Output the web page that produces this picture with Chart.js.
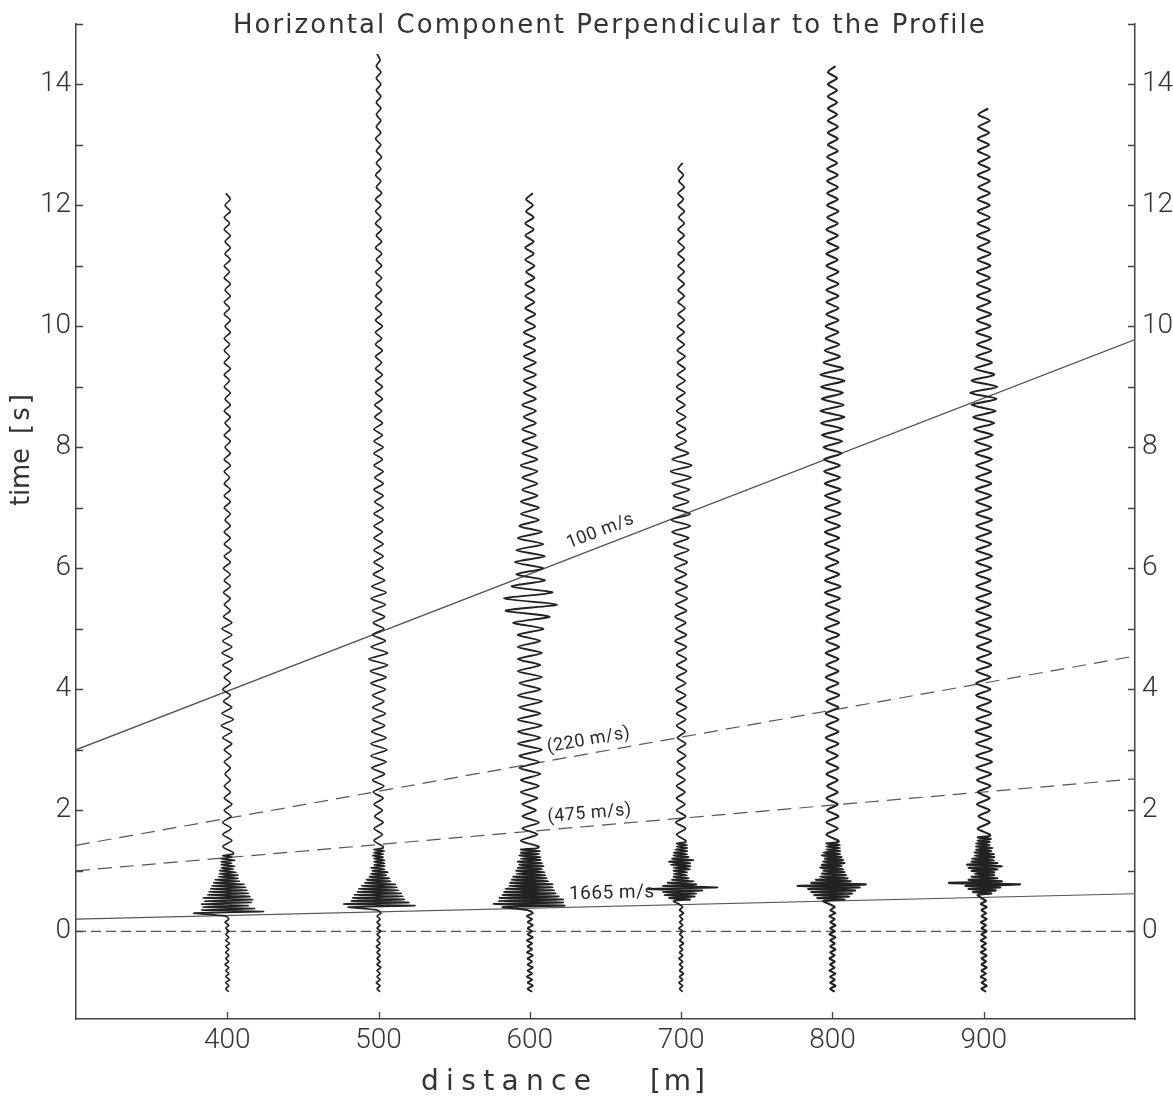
<!DOCTYPE html>
<html>
<head>
<meta charset="utf-8">
<title>Horizontal Component Perpendicular to the Profile</title>
<script src="https://cdn.jsdelivr.net/npm/chart.js@4.4.1/dist/chart.umd.min.js"></script>
<style>
  html, body { margin: 0; padding: 0; background: #fff; }
  #wrap { width: 1173px; height: 1105px; }
</style>
</head>
<body>
<div id="wrap"><canvas id="seismoChart" width="1173" height="1105"></canvas></div>
<script>
// station distances [m]
const distances = [400, 500, 600, 700, 800, 900];

// axis ticks
const xTickValues = [400, 500, 600, 700, 800, 900];
const yTickLabels = [0, 2, 4, 6, 8, 10, 12, 14];
const yTickMarks = [0, 1, 2, 3, 4, 5, 6, 7, 8, 9, 10, 11, 12, 13, 14, 15];

// trace sampling [s]: pre-event noise, first arrival burst, coda
const TRACE_START = -1.0;
const PRE_STEP = 0.05;
const BURST_STEP = 0.025;
const TAIL_STEP = 0.1;

// trace deflections [m]
const pre400 = [1,-1,1,-1,1.5,-1,1,-1,1,-1.5,1,-1,1,-1,1,-1,1.5,-1,1,-1,1,-1,1,-1.5,1,-1];
const burst400 = [-22,24,-17,18,-16,14,-17,16,-15,17,-16,15,-13,14,-12,13,-11,12,-10,11,
  -9,8,-8,7,-6,7,-5,6,-5,4,-4,5,-4,3,-4,5,-4,3,-3,4];
const tail400 = [
  4,-3,3,-3,2.5,-3,2.5,-2,3,-2,
  2,-2,2,-1.5,2,-2,2.5,-2,3,-3,
  3,-4,4,-3.5,3,-2.5,2,-3,2,-2,
  2.5,-3,3.5,-3.5,3,-3,3,-3.5,3,-2.5,
  2,-2,2,-2.5,2,-2,2,-2.5,2,-2,
  2.5,-2,2,-2,2,-1.5,2,-2,2,-2,
  2,-2,1.5,-2,2,-2,2,-1.5,2,-2,
  2,-1.5,2,-2,2,-1.5,2,-2,1.5,-2,
  2,-2,1.5,-2,1.5,-2,2,-1.5,2,-2,
  1.5,-2,2,-1.5,2,-2,1.5,-2,2,-1.5,
  2,-1.5,2,-2,1.5,-2,2,-1.5,2,-1];

const pre500 = [1,-1,1,-1.5,1,-1,1,-1,1.5,-1,1,-1,1,-1,1,-1.5,1,-1,1,-1,1.5,-1,1,-1,1,-1,1.5,-1];
const burst500 = [-20,24,-23,20,-18,17,-17,16,-16,15,-14,13,-13,12,-11,11,-9,8,-8,7,
  -6,5,-5,6,-4,4,-5,4,-3,4,-3,4,-3,3,-4,3,-3,4,-3,3];
const tail500 = [
  3,-3,2.5,-3,3,-2.5,2.5,-3,3,-3.5,
  3.5,-4,4,-4.5,5,-5,5.5,-5,5,-4.5,
  4,-4,4.5,-4,3.5,-4,4.5,-5,5,-5.5,
  6,-6.5,6,-5,4.5,-4,3.5,-3.5,4,-4,
  4.5,-5,5,-4.5,4,-3.5,3,-3,3,-3,
  3,-3,2.5,-3,3,-3,3,-2.5,3,-3,
  3,-2.5,3,-3,2.5,-3,3,-3,2.5,-3,
  2.5,-2.5,2,-2.5,2.5,-2,2.5,-2,2.5,-2,
  2,-2,2.5,-2,2,-2,2.5,-2,2,-2,
  2,-2,2,-1.5,2,-2,2,-1.5,2,-2,
  2,-1.5,2,-2,1.5,-2,1.5,-2,2,-1.5,
  1.5,-2,1.5,-1.5,2,-1.5,1.5,-2,1.5,-1.5,
  1.5,-1.5,1.5,-1.5,1.5,-1.5,1.5,-1.5,1.5,-1.5,
  1,-1];

const pre600 = [1.5,-1.5,2,-1.5,1.5,-2,1.5,-1.5,2,-1.5,1.5,-1.5,2,-2,1.5,-1.5,1.5,-2,2,-1.5,1.5,-1.5,2,-1.5,1.5,-2,2,-1.5];
const burst600 = [-18,23,-24,22,-21,22,-20,19,-18,17,-17,16,-16,15,-14,15,-13,12,-12,11,
  -11,10,-9,10,-9,8,-8,9,-7,8,-8,7,-6,7,-7,6,-6,7,-6,5];
const tail600 = [
  6,-6,5,-5,6,-5,4,-5,5,-6,
  6,-6,7,-7,6,-7,8,-8,7,-8,
  8,-8,7,-7,8,-8,7,-7,8,-8,
  7,-8,8,-8,7,-8,9,-11,13,-16,
  18,-17,15,-12,10,-9,9,-10,10,-9,
  9,-8,8,-7,6,-6,6,-6,5,-5,
  5,-5,5,-6,5,-5,5,-5,4,-5,
  4,-4,4,-5,4,-4,4,-4,4,-4,
  4,-4,3.5,-4,3.5,-4,3.5,-3,3.5,-3,
  3,-3,3,-3,3,-2.5,3,-3,2.5,-3,
  2.5,-3,2.5,-3,2.5,-2.5,2,-2.5,2];

const pre700 = [1,-1,1,-1.5,1,-1,1.5,-1,1,-1,1,-1.5,1,-1,1,-1,1.5,-1,1,-1,1,-1.5,1,-1,1,-1,1.5,-1,1,-1.5];
const burst700 = [-5,6,-8,9,-11,10,-12,14,-22,24,-12,10,-9,8,-6,5,-5,4,-5,4,
  -5,6,-5,6,-7,6,-8,8,-6,5,-5,4,-5,4,-4,4,-3,4,-3,3];
const tail700 = [
  3,-3,3,-3.5,3,-3,2.5,-3,2.5,-3,
  2.5,-3,2.5,-2.5,3,-2.5,3,-2.5,2.5,-3,
  3,-3,3.5,-3,3,-3.5,3,-3,3.5,-3,
  3.5,-3,3.5,-4,3.5,-3.5,3,-4,3.5,-3.5,
  4,-3.5,4,-4,3.5,-4,4,-4.5,5,-5,
  5,-6,6,-6.5,6,-5.5,5,-5,5.5,-6,
  6.5,-7,7,-6,5,-4,3.5,-3,3,-3,
  3,-3,2.5,-3,2.5,-3,2.5,-2.5,2.5,-2.5,
  2.5,-2.5,2,-2.5,2,-2.5,2,-2,2.5,-2,
  2,-2,2,-2,2,-2,2,-2,2,-2,
  2,-2,2,-1.5,2,-2,1.5,-2,2,-1.5,
  1.5,-2,1];

const pre800 = [1.5,-1.5,2,-1.5,1.5,-1.5,2,-2,1.5,-1.5,1.5,-2,1.5,-1.5,2,-1.5,1.5,-1.5,2,-2,1.5,-1.5,2,-1.5,1.5,-2,2,-1.5,1.5,-2];
const burst800 = [-6,8,-10,11,-12,13,-14,15,-16,18,-23,22,-14,12,-11,10,-8,9,-7,8,
  -6,7,-8,6,-7,8,-6,7,-5,6,-7,5,-6,5,-4,5,-4,5,-4,4];
const tail800 = [
  4,-4,3.5,-4,4,-3.5,3.5,-4,3.5,-3.5,
  3.5,-4,4,-4,3.5,-4,4,-4.5,4,-4,
  4,-4.5,4,-4,4.5,-4,4,-4.5,4,-4,
  4,-4.5,4.5,-4,4.5,-5,4.5,-4,4.5,-4.5,
  5,-5,5.5,-5,4.5,-4.5,4,-4.5,4.5,-5,
  4.5,-5,5,-5,5.5,-5,5,-5,5.5,-5,
  5,-5.5,5,-5.5,6,-6,6.5,-7,7,-7.5,
  8,-8,7.5,-7,7,-7.5,8,-8,7,-6,
  5,-5,4.5,-4.5,4,-4.5,4,-4,4,-4,
  4,-4,4,-3.5,4,-4,3.5,-4,4,-3.5,
  3.5,-4,3.5,-3.5,4,-3.5,3.5,-3.5,3.5,-3.5,
  3.5,-3.5,3,-3.5,3.5,-3,3.5,-3,3.5,-3,
  3,-3,3,-3,3,-3,3,-3,2];

const pre900 = [1.5,-1.5,2,-1.5,1.5,-2,1.5,-1.5,2,-1.5,1.5,-1.5,2,-2,1.5,-1.5,1.5,-2,1.5,-1.5,2,-1.5,1.5,-2,2,-1.5,1.5,-1.5,2,-2,1.5,-1.5];
const burst900 = [-4,5,-7,8,-10,11,-12,24,-23,12,-10,9,-8,7,-6,7,-8,9,-10,12,
  -11,9,-8,7,-8,7,-6,7,-6,5,-5,6,-5,4,-5,4,-4,5,-4,4];
const tail900 = [
  4,-4,4,-3.5,4,-4.5,4,-4,4.5,-4.5,
  5,-5,5.5,-5,5.5,-5,5,-5.5,5,-5,
  5,-4.5,5,-5,4.5,-5,4.5,-5,5,-4.5,
  5,-4.5,5,-5,4.5,-5,5,-5,4.5,-5,
  5,-5,4.5,-5,5,-5,5.5,-5,5,-5,
  5,-5,5.5,-5,5,-5,5,-5.5,5,-5,
  5,-5,5.5,-5.5,5,-6,6,-6.5,7,-7,
  8,-8,8.5,-9,9,-8,7,-6,5.5,-5,
  5,-4.5,5,-5,4.5,-4.5,5,-4.5,4.5,-4.5,
  4.5,-4.5,4,-4.5,4.5,-4,4.5,-4,4,-4.5,
  4,-4,4,-4,4,-4,4,-3.5,4,-4,
  4,-3.5,4,-4,3.5,-4,3.5,-3.5,4,-3.5,
  3];

const preParts = [pre400, pre500, pre600, pre700, pre800, pre900];
const burstParts = [burst400, burst500, burst600, burst700, burst800, burst900];
const tailParts = [tail400, tail500, tail600, tail700, tail800, tail900];

// velocity lines: arrival time [s] at 300 m and at 1000 m
const lineLabels = ["100 m/s", "(220 m/s)", "(475 m/s)", "1665 m/s"];
const lineTimeAt300 = [3.0, 1.42, 1.0, 0.2];
const lineTimeAt1000 = [9.78, 4.55, 2.52, 0.62];
const lineEnds = [300, 1000];

// look
const INK = "#222";
const AXIS_INK = "#444";
const LINE_INK = "#555";
const TICK_LEN = 7;
const TEXT_FONT = '"DejaVu Sans"';
const traceWidths = [1.6, 1.7, 1.9, 1.8, 2.1, 2.1];
const lineDashes = [[], [14, 8], [14, 8], []];
const lineWidths = [1.3, 1.2, 1.2, 1.2];
// where each velocity label sits (distance, time of baseline start)
const labelSpots = [[626, 6.33], [612, 2.96], [612, 1.81], [626, 0.53]];
const labelSizes = [18, 18, 18, 19];

function buildTrace(dist, pre, burst, tail) {
  const pts = [];
  let t = TRACE_START;
  pre.forEach(v => { pts.push({ x: dist + v, y: t }); t += PRE_STEP; });
  burst.forEach(v => { pts.push({ x: dist + v, y: t }); t += BURST_STEP; });
  tail.forEach(v => { pts.push({ x: dist + v, y: t }); t += TAIL_STEP; });
  return pts;
}

const datasets = [];

distances.forEach((d, i) => {
  datasets.push({
    label: d + " m",
    data: buildTrace(d, preParts[i], burstParts[i], tailParts[i]),
    showLine: true,
    borderColor: INK,
    borderWidth: traceWidths[i],
    pointRadius: 0,
    tension: 0.25,
    order: 1
  });
});

lineLabels.forEach((name, i) => {
  datasets.push({
    label: name,
    data: [
      { x: lineEnds[0], y: lineTimeAt300[i] },
      { x: lineEnds[1], y: lineTimeAt1000[i] }
    ],
    showLine: true,
    borderColor: LINE_INK,
    borderWidth: lineWidths[i],
    borderDash: lineDashes[i],
    pointRadius: 0,
    order: 2
  });
});

// t = 0 reference
datasets.push({
  label: "t0",
  data: [{ x: lineEnds[0], y: 0 }, { x: lineEnds[1], y: 0 }],
  showLine: true,
  borderColor: LINE_INK,
  borderWidth: 1.2,
  borderDash: [10, 5],
  pointRadius: 0,
  order: 2
});

function spacedText(ctx, text, x, y, width) {
  ctx.letterSpacing = "0px";
  const w = ctx.measureText(text).width;
  const sp = (width - w) / (text.length - 1);
  ctx.letterSpacing = sp.toFixed(2) + "px";
  ctx.fillText(text, x, y);
  ctx.letterSpacing = "0px";
}

const paperPlugin = {
  id: "paperAnnotations",
  afterDraw(chart) {
    const { ctx, chartArea, scales } = chart;
    const xs = scales.x, ys = scales.y;
    ctx.save();

    // inward tick marks
    ctx.strokeStyle = AXIS_INK;
    ctx.lineWidth = 1.3;
    ctx.beginPath();
    yTickMarks.forEach(v => {
      const py = Math.round(ys.getPixelForValue(v)) + 0.5;
      ctx.moveTo(chartArea.left, py);
      ctx.lineTo(chartArea.left + TICK_LEN, py);
      ctx.moveTo(chartArea.right, py);
      ctx.lineTo(chartArea.right - TICK_LEN, py);
    });
    xTickValues.forEach(v => {
      const px = Math.round(xs.getPixelForValue(v)) + 0.5;
      ctx.moveTo(px, chartArea.bottom);
      ctx.lineTo(px, chartArea.bottom - TICK_LEN);
    });
    ctx.stroke();

    // velocity labels along their lines
    ctx.fillStyle = "#2a2a2a";
    ctx.textAlign = "left";
    ctx.textBaseline = "alphabetic";
    lineLabels.forEach((name, i) => {
      const x0 = xs.getPixelForValue(lineEnds[0]), y0 = ys.getPixelForValue(lineTimeAt300[i]);
      const x1 = xs.getPixelForValue(lineEnds[1]), y1 = ys.getPixelForValue(lineTimeAt1000[i]);
      const ang = Math.atan2(y1 - y0, x1 - x0);
      ctx.save();
      ctx.translate(xs.getPixelForValue(labelSpots[i][0]), ys.getPixelForValue(labelSpots[i][1]));
      ctx.rotate(ang);
      ctx.font = labelSizes[i] + "px Roboto";
      ctx.letterSpacing = "0.5px";
      ctx.fillText(name, 0, 0);
      ctx.restore();
    });

    // title and axis titles
    ctx.fillStyle = "#333";
    ctx.font = "26px " + TEXT_FONT;
    spacedText(ctx, "Horizontal Component Perpendicular to the Profile", 233, 33, 752);
    ctx.font = "28px " + TEXT_FONT;
    spacedText(ctx, "distance", 421, 1090, 170);
    spacedText(ctx, "[m]", 650, 1090, 55);
    ctx.save();
    ctx.translate(29, 506);
    ctx.rotate(-Math.PI / 2);
    ctx.font = "26px " + TEXT_FONT;
    spacedText(ctx, "time", 0, 0, 58);
    spacedText(ctx, "[s]", 72, 0, 40);
    ctx.restore();

    ctx.restore();
  }
};

const tickFont = { family: "Roboto", size: 28, weight: "300" };

new Chart(document.getElementById("seismoChart"), {
  type: "scatter",
  data: { datasets: datasets },
  options: {
    responsive: false,
    animation: false,
    devicePixelRatio: 1,
    layout: { padding: { top: 21, left: 0, right: 0, bottom: 0 } },
    plugins: {
      legend: { display: false },
      tooltip: { enabled: false },
      title: { display: false }
    },
    scales: {
      x: {
        type: "linear",
        position: "bottom",
        min: 300,
        max: 1000,
        grid: { display: false, drawTicks: false },
        border: { display: true, color: AXIS_INK, width: 1.5 },
        ticks: { font: tickFont, color: "#333", padding: 5, maxRotation: 0, autoSkip: false },
        afterBuildTicks: scale => { scale.ticks = xTickValues.map(v => ({ value: v })); },
        afterFit: scale => { scale.height = 86; }
      },
      y: {
        type: "linear",
        position: "left",
        min: -1.45,
        max: 15,
        grid: { display: false, drawTicks: false },
        border: { display: true, color: AXIS_INK, width: 1.5 },
        ticks: { font: tickFont, color: "#333", padding: 5 },
        afterBuildTicks: scale => { scale.ticks = yTickLabels.map(v => ({ value: v })); },
        afterFit: scale => { scale.width = 76; }
      },
      y2: {
        type: "linear",
        position: "right",
        min: -1.45,
        max: 15,
        grid: { display: false, drawTicks: false },
        border: { display: true, color: AXIS_INK, width: 1.5 },
        ticks: { font: tickFont, color: "#333", padding: 7 },
        afterBuildTicks: scale => { scale.ticks = yTickLabels.map(v => ({ value: v })); },
        afterFit: scale => { scale.width = 38; }
      }
    }
  },
  plugins: [paperPlugin]
});
</script>
</body>
</html>
